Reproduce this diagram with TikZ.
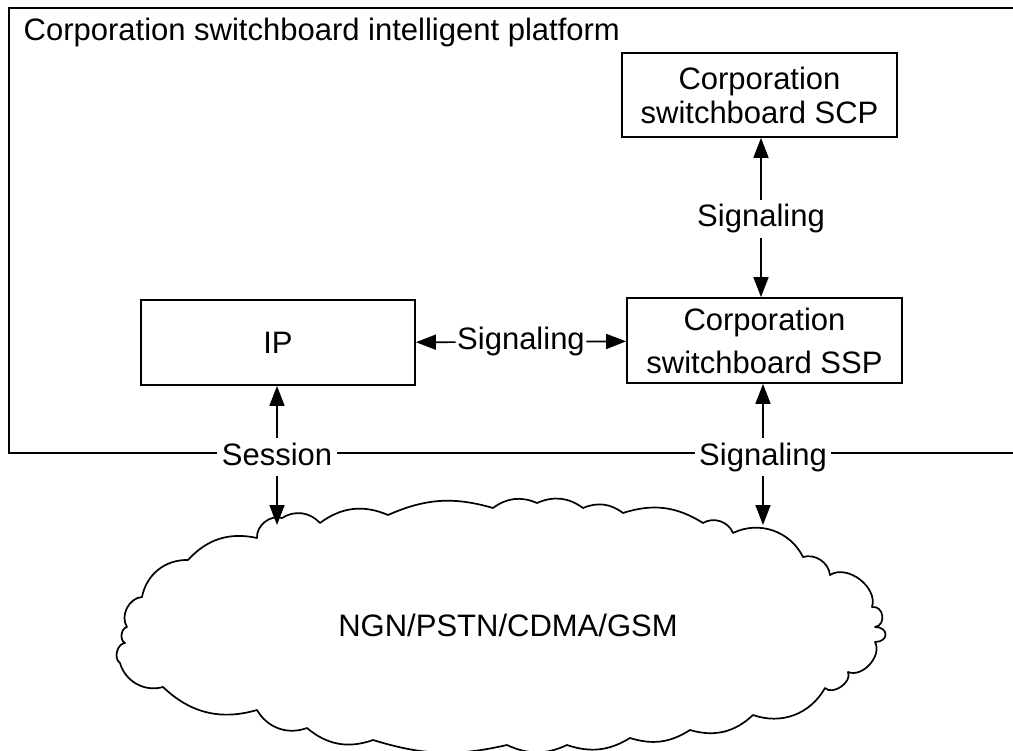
\documentclass[tikz,border=0pt]{standalone}
\usepackage{fontspec}
\setmainfont{Liberation Sans}
\usetikzlibrary{arrows.meta}
\tikzset{
  box/.style={draw, line width=1.8pt, inner sep=0pt, align=center, font=\fontsize{31}{34}\selectfont},
  lab/.style={fill=white, inner ysep=5pt, text height=22pt, text depth=6pt, font=\fontsize{31}{34}\selectfont},
  framelab/.style={lab, inner xsep=4.5pt},
  midlab/.style={lab, inner xsep=1.5pt},
  arr/.style={line width=1.7pt, -{Triangle[length=20pt,width=15pt]}},
  frameline/.style={line width=1.8pt},
  cloudline/.style={line width=1.7pt, line join=round}
}
\begin{document}
\begin{tikzpicture}[x=1pt,y=-1pt]
\useasboundingbox (0,0) rectangle (1013,751);
% platform frame (right side runs off the page)
\draw[frameline] (1013,8) -- (9,8) -- (9,453) -- (1013,453);
\node[anchor=base west, inner sep=0pt, font=\fontsize{31}{34}\selectfont] (title) at (23.5,41) {Corporation switchboard intelligent platform};
% boxes
\node[box, minimum width=275pt, minimum height=84pt] (scp) at (759.5,95) {Corporation\\switchboard SCP};
\node[box, minimum width=275pt, minimum height=85pt, font=\fontsize{31}{43}\selectfont] (ssp) at (764.5,340.5) {Corporation\\switchboard SSP};
\node[box, minimum width=274pt, minimum height=85pt] (ip) at (278,342.5) {IP};
% cloud
\draw[cloudline] (120,663) to[bend left=70] (125,643) to[bend left=70] (127,627)
  to[bend left=60] (142,597) to[bend left=40] (188,560) to[bend left=30] (257,538)
  to[bend left=55] (282,518) to[bend left=40] (320,523) to[bend left=30] (388,515)
  to[bend left=20] (493,508) to[bend left=30] (537,503) to[bend left=30] (583,508)
  to[bend left=30] (623,513) to[bend left=25] (703,523) to[bend left=50] (733,533)
  to[bend left=45] (803,557) to[bend left=50] (830,575) to[bend left=70] (872,607)
  to[bend left=90, looseness=1.5] (875,627) to[bend left=90, looseness=2.4] (875,642) to[bend left=70] (848,672)
  to[bend left=80] (825,688) to[bend left=40] (753,715) to[bend left=30] (690,730)
  to[bend left=25] (630,738) to[bend left=25] (567,745) to[bend left=25] (507,745)
  to[bend left=15] (373,740) to[bend left=30] (307,728) to[bend left=40] (257,710)
  to[bend left=30] (163,687) to[bend left=45] (120,663) -- cycle;
\node[inner sep=0pt, font=\fontsize{31}{34}\selectfont] (net) at (508,625) {NGN/PSTN/CDMA/GSM};
\coordinate (c1) at (277,525);
\coordinate (c2) at (763,525);
% labels
\node[midlab] (sigv) at (761,219) {Signaling};
\node[midlab] (sigh) at (521,342) {Signaling};
\node[framelab] (sess) at (277,457) {Session};
\node[framelab] (sigb) at (763,457) {Signaling};
% connectors
\draw[arr] (sigv) -- (sigv |- scp.south);
\draw[arr] (sigv) -- (sigv |- ssp.north);
\draw[arr] (sigh) -- (ip);
\draw[arr] (sigh) -- (ssp);
\draw[arr] (sess) -- (sess |- ip.south);
\draw[arr] (sess) -- (c1);
\draw[arr] (sigb) -- (sigb |- ssp.south);
\draw[arr] (sigb) -- (c2);
\end{tikzpicture}
\end{document}
